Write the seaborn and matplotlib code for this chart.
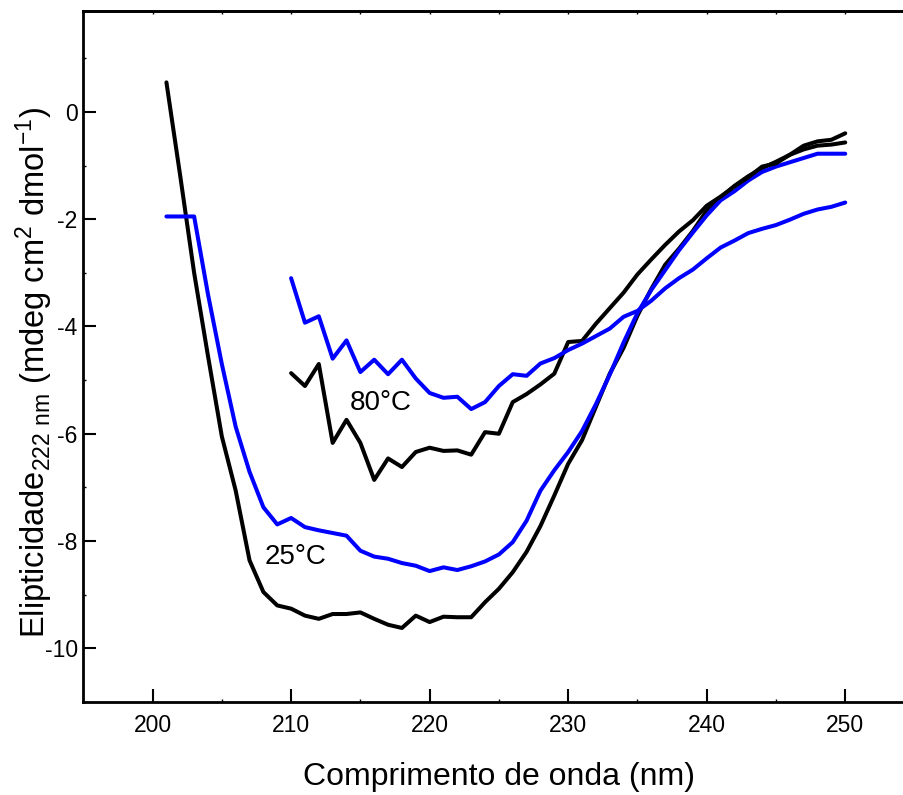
import numpy as np
import pandas as pd
import matplotlib
matplotlib.use("Agg")
import matplotlib.pyplot as plt
import seaborn as sns

# comprimentos de onda (nm)
wl_25 = list(range(201, 251))
wl_80 = list(range(210, 251))

# elipticidade a 25 °C
preto_25 = [0.55, -1.2, -3.0, -4.55, -6.05, -7.06, -8.36, -8.95, -9.2, -9.26,
            -9.39, -9.45, -9.36, -9.36, -9.33, -9.45, -9.56, -9.62, -9.39, -9.51,
            -9.41, -9.42, -9.42, -9.14, -8.89, -8.58, -8.2, -7.72, -7.15, -6.56,
            -6.12, -5.5, -4.88, -4.4, -3.8, -3.3, -2.85, -2.55, -2.22, -1.84,
            -1.6, -1.38, -1.2, -1.05, -0.93, -0.8, -0.7, -0.63, -0.61, -0.57]
azul_25 = [-1.95, -1.95, -1.95, -3.4, -4.7, -5.87, -6.71, -7.37, -7.69, -7.57,
           -7.74, -7.80, -7.85, -7.90, -8.18, -8.29, -8.33, -8.41, -8.46, -8.56,
           -8.49, -8.54, -8.47, -8.38, -8.25, -8.02, -7.62, -7.06, -6.68, -6.34,
           -5.95, -5.45, -4.9, -4.3, -3.75, -3.32, -2.95, -2.58, -2.25, -1.93,
           -1.65, -1.48, -1.28, -1.12, -1.02, -0.94, -0.86, -0.78, -0.78, -0.78]

# elipticidade a 80 °C
preto_80 = [-4.87, -5.11, -4.70, -6.17, -5.74, -6.17, -6.86, -6.46, -6.62, -6.34,
            -6.26, -6.32, -6.31, -6.39, -5.97, -6.0, -5.41, -5.26, -5.08, -4.88,
            -4.29, -4.27, -3.95, -3.66, -3.37, -3.03, -2.75, -2.48, -2.23, -2.02,
            -1.75, -1.58, -1.39, -1.22, -1.02, -0.96, -0.80, -0.63, -0.55, -0.52,
            -0.40]
azul_80 = [-3.10, -3.93, -3.81, -4.60, -4.26, -4.85, -4.62, -4.89, -4.62, -4.97,
           -5.24, -5.33, -5.31, -5.54, -5.41, -5.11, -4.89, -4.92, -4.69, -4.59,
           -4.44, -4.32, -4.18, -4.04, -3.82, -3.71, -3.52, -3.29, -3.10, -2.94,
           -2.73, -2.53, -2.40, -2.26, -2.18, -2.11, -2.01, -1.90, -1.82, -1.77,
           -1.69]

sns.set_style("ticks")
plt.rcParams['font.family'] = ['Liberation Sans', 'DejaVu Sans']
plt.rcParams['mathtext.default'] = 'regular'
plt.rcParams['axes.unicode_minus'] = False
for k in ['text.color', 'axes.labelcolor', 'xtick.color', 'ytick.color']:
    plt.rcParams[k] = 'black'

fig = plt.figure(figsize=(9.04, 7.95), dpi=100)
# o eixo continua além da borda direita da figura
ax = fig.add_axes([83.3 / 904, 93 / 795, 831.2 / 904, 691 / 795])

series = [
    (wl_25, preto_25, 'black'),
    (wl_25, azul_25, '#0000ff'),
    (wl_80, preto_80, 'black'),
    (wl_80, azul_80, '#0000ff'),
]
for x, y, cor in series:
    df = pd.DataFrame({'wl': x, 'el': y})
    sns.lineplot(data=df, x='wl', y='el', color=cor, lw=2.9, ax=ax, legend=False)

ax.text(216.5, -5.43, '80°C', fontsize=20, ha='center', va='center')
ax.text(210.3, -8.30, '25°C', fontsize=20, ha='center', va='center')

ax.set_xlim(195, 255)
ax.set_ylim(-11, 1.88)
ax.set_xticks([200, 210, 220, 230, 240, 250])
ax.set_xticks(np.arange(195, 256, 5), minor=True)
ax.set_yticks([0, -2, -4, -6, -8, -10])
ax.set_yticks(np.arange(-11, 2, 1), minor=True)

ax.tick_params(which='major', direction='in', length=9.5, width=1.5,
               labelsize=16.5)
ax.tick_params(axis='x', which='major', pad=9)
ax.tick_params(axis='y', which='major', pad=4)
ax.tick_params(which='minor', direction='in', length=2.5, width=1)

# marcas curtas no topo
top = ax.secondary_xaxis('top')
top.set_xticks(np.arange(195, 256, 5))
top.tick_params(direction='in', length=2.5, width=1, labeltop=False)
top.spines['top'].set_linewidth(2)

for s in ['left', 'bottom', 'top', 'right']:
    ax.spines[s].set_linewidth(2)
    ax.spines[s].set_color('black')

ax.set_xlabel('Comprimento de onda (nm)', fontsize=23, labelpad=18)
ax.set_ylabel(r'Elipticidade$_{222\ nm}$ (mdeg cm$^2$ dmol$^{-1}$)',
              fontsize=23.5, labelpad=-7.5)
ax.yaxis.label.set_y(0.477)

fig.savefig('out.png', dpi=100)
